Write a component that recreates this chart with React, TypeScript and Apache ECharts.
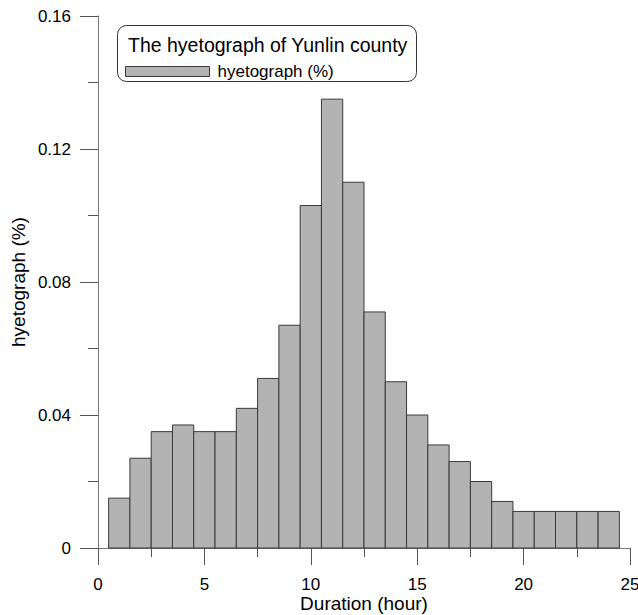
import React, { useEffect, useRef } from "react";
import * as echarts from "echarts";

const hours = [1, 2, 3, 4, 5, 6, 7, 8, 9, 10, 11, 12, 13, 14, 15, 16, 17, 18, 19, 20, 21, 22, 23, 24];
const hyetograph = [
  0.015, 0.027, 0.035, 0.037, 0.035, 0.035, 0.042, 0.051, 0.067, 0.103, 0.135, 0.11,
  0.071, 0.05, 0.04, 0.031, 0.026, 0.02, 0.014, 0.011, 0.011, 0.011, 0.011, 0.011,
];
const binWidth = 1;
const legendTitle = "The hyetograph of Yunlin county";
const seriesName = "hyetograph (%)";
const xTitle = "Duration (hour)";
const yTitle = "hyetograph (%)";

const FONT = "Liberation Sans, Arial, sans-serif";
const FILL = "#b3b3b3";
const EDGE = "#3a3a3a";

export default function App() {
  const ref = useRef<HTMLDivElement>(null);
  useEffect(() => {
    if (!ref.current) return;
    const chart = echarts.init(ref.current, undefined, { renderer: "svg" });
    const data = hours.map((h, i) => [h, hyetograph[i]]);
    chart.setOption({
      animation: false,
      backgroundColor: "#ffffff",
      textStyle: { fontFamily: FONT },
      grid: { left: 98, right: 8, top: 16, bottom: 67, containLabel: false, outerBoundsMode: "none" },
      legend: {
        left: 125,
        top: 63,
        padding: 0,
        itemWidth: 84,
        itemHeight: 10,
        data: [
          {
            name: seriesName,
            icon: "rect",
            itemStyle: { color: FILL, borderColor: EDGE, borderWidth: 1 },
          },
        ],
        textStyle: { fontSize: 17, color: "#000", fontFamily: FONT, padding: [0, 0, 0, 3] },
      },
      graphic: [
        {
          type: "rect",
          shape: { x: 117.5, y: 25.5, width: 299, height: 56, r: 9 },
          style: { fill: "#fff", stroke: "#333", lineWidth: 1 },
          z: 0,
        },
        {
          type: "text",
          x: 128,
          y: 45,
          style: {
            text: legendTitle,
            fontSize: 19.5,
            fontFamily: FONT,
            fill: "#000",
            textVerticalAlign: "middle",
            verticalAlign: "middle",
          },
          z: 1,
        },
      ],
      xAxis: {
        type: "value",
        min: 0,
        max: 25,
        interval: 5,
        name: xTitle,
        nameLocation: "middle",
        nameGap: 46,
        nameMoveOverlap: false,
        nameTextStyle: { fontSize: 19, lineHeight: 19, color: "#000", fontFamily: FONT },
        axisLine: { show: true, onZero: false, lineStyle: { color: "#777", width: 1 } },
        axisTick: { show: true, inside: false, length: 17, lineStyle: { color: "#555", width: 1 } },
        minorTick: { show: true, splitNumber: 2, length: 9, lineStyle: { color: "#555", width: 1 } },
        splitLine: { show: false },
        minorSplitLine: { show: false },
        axisLabel: { fontSize: 17, lineHeight: 17, color: "#000", margin: 28, fontFamily: FONT },
      },
      yAxis: {
        type: "value",
        min: 0,
        max: 0.16,
        interval: 0.04,
        name: yTitle,
        nameLocation: "middle",
        nameRotate: 90,
        nameGap: 70,
        nameMoveOverlap: false,
        nameTextStyle: { fontSize: 19, color: "#000", fontFamily: FONT },
        axisLine: { show: true, lineStyle: { color: "#777", width: 1 } },
        axisTick: { show: true, inside: false, length: 18, lineStyle: { color: "#555", width: 1 } },
        minorTick: { show: true, splitNumber: 2, length: 10, lineStyle: { color: "#555", width: 1 } },
        splitLine: { show: false },
        minorSplitLine: { show: false },
        axisLabel: { fontSize: 17, color: "#000", margin: 27, fontFamily: FONT },
      },
      series: [
        {
          name: seriesName,
          type: "custom",
          data,
          renderItem: (params: any, api: any) => {
            const x = api.value(0);
            const y = api.value(1);
            const p0 = api.coord([x - binWidth / 2, y]);
            const p1 = api.coord([x + binWidth / 2, 0]);
            return {
              type: "rect",
              shape: { x: p0[0], y: p0[1], width: p1[0] - p0[0], height: p1[1] - p0[1] },
              style: { fill: FILL, stroke: EDGE, lineWidth: 1 },
            };
          },
          encode: { x: 0, y: 1 },
          z: 2,
        },
      ],
    });
    return () => chart.dispose();
  }, []);
  return (
    <div
      ref={ref}
      style={{ position: "absolute", left: 0, top: 0, width: 638, height: 615 }}
    />
  );
}
